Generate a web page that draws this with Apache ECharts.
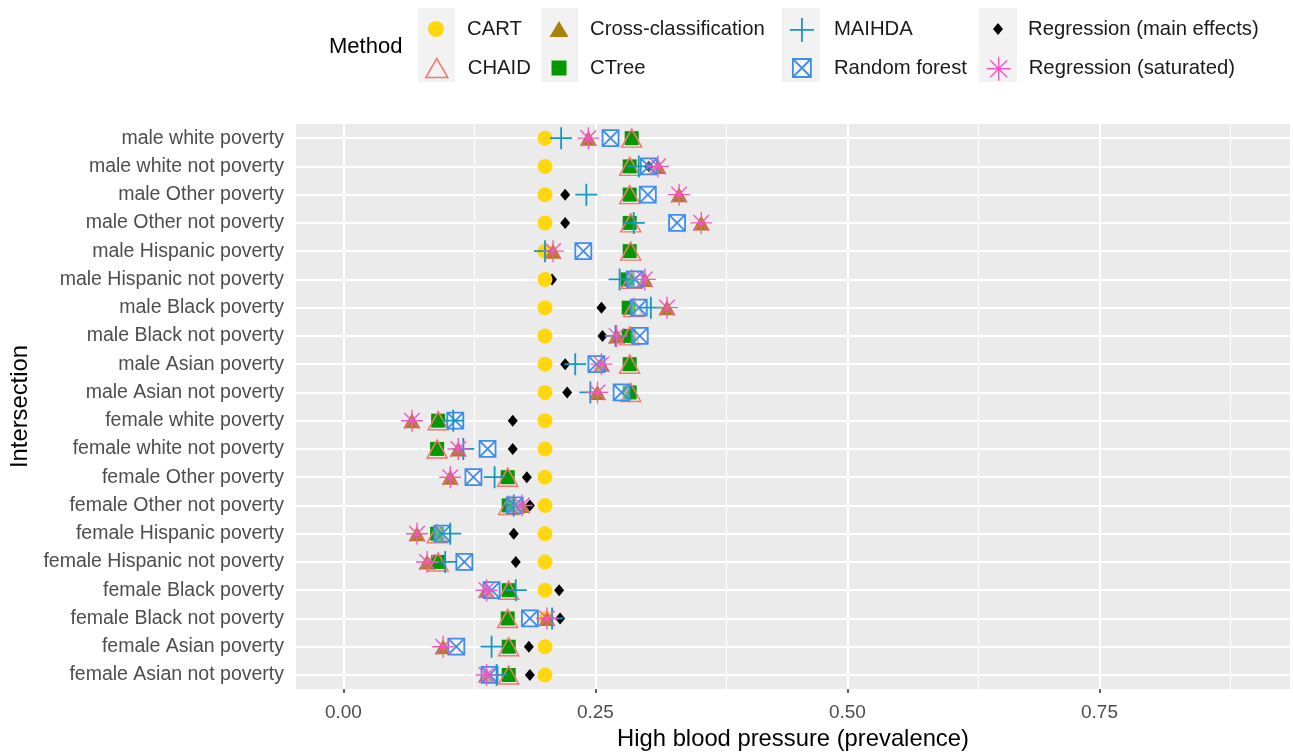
<!DOCTYPE html>
<html>
<head>
<meta charset="utf-8">
<script src="https://cdn.jsdelivr.net/npm/echarts@6/dist/echarts.min.js"></script>
<style>html,body{margin:0;padding:0;background:#fff;}#c{width:1293px;height:756px;}</style>
</head>
<body>
<div id="c"></div>
<script>
const categories = [
  'male white poverty','male white not poverty','male Other poverty','male Other not poverty',
  'male Hispanic poverty','male Hispanic not poverty','male Black poverty','male Black not poverty',
  'male Asian poverty','male Asian not poverty','female white poverty','female white not poverty',
  'female Other poverty','female Other not poverty','female Hispanic poverty','female Hispanic not poverty',
  'female Black poverty','female Black not poverty','female Asian poverty','female Asian not poverty'
];
const xTicks = [0, 0.25, 0.5, 0.75];

const cart     = [0.200,0.200,0.200,0.200,0.200,0.200,0.200,0.200,0.200,0.200,0.200,0.200,0.200,0.200,0.200,0.200,0.200,0.201,0.200,0.200];
const chaid    = [0.286,0.284,0.284,0.285,0.285,0.286,0.288,0.284,0.284,0.285,0.094,0.093,0.163,0.164,0.093,0.094,0.164,0.163,0.164,0.164];
const crossCls = [0.243,0.312,0.333,0.355,0.208,0.299,0.321,0.271,0.256,0.252,0.068,0.114,0.106,0.177,0.073,0.083,0.142,0.202,0.099,0.142];
const ctree    = [0.286,0.284,0.284,0.284,0.284,0.282,0.283,0.283,0.284,0.284,0.094,0.093,0.163,0.164,0.093,0.094,0.164,0.163,0.164,0.164];
const maihda   = [0.216,0.293,0.241,0.288,0.200,0.274,0.305,0.270,0.230,0.245,0.109,0.119,0.150,0.169,0.106,0.101,0.171,0.207,0.147,0.152];
const rforest  = [0.265,0.303,0.302,0.331,0.238,0.289,0.293,0.294,0.251,0.276,0.111,0.143,0.129,0.170,0.098,0.120,0.147,0.185,0.112,0.145];
const regMain  = [0.287,0.303,0.220,0.220,0.201,0.207,0.256,0.257,0.220,0.222,0.168,0.168,0.182,0.185,0.169,0.171,0.214,0.215,0.184,0.185];
const regSat   = [0.243,0.312,0.333,0.355,0.208,0.299,0.321,0.271,0.256,0.252,0.068,0.114,0.106,0.177,0.073,0.083,0.142,0.202,0.099,0.142];

const PLUS = 'path://M0,5L10,5M5,0L5,10';
const STAR = 'path://M5,0L5,10M0,5L10,5M1.46,1.46L8.54,8.54M1.46,8.54L8.54,1.46';
const BOXX = 'path://M0,0L10,0L10,10L0,10ZM0,0L10,10M0,10L10,0';

function pts(vals){ return vals.map((v,i)=>[v, categories[i]]); }

const gridLineData = []
  .concat(xTicks.map(v=>({xAxis:v, lineStyle:{width:2}})))
  .concat(xTicks.map(v=>({xAxis:v+0.125, lineStyle:{width:1}})))
  .concat(categories.map((c,i)=>({yAxis:i, lineStyle:{width:2}})));

const seriesDefs = [
  {name:'Regression (main effects)', data:regMain, symbol:'diamond', size:[10,12], z:3,
   style:{color:'#000', borderWidth:0}},
  {name:'CART', data:cart, symbol:'circle', size:15, z:4,
   style:{color:'#FFD70F', borderWidth:0}},
  {name:'Cross-classification', data:crossCls, symbol:'triangle', size:[17,15], z:5,
   style:{color:'#A8820A', borderWidth:0}},
  {name:'CTree', data:ctree, symbol:'rect', size:14, z:6,
   style:{color:'#009A00', borderWidth:0}},
  {name:'CHAID', data:chaid, symbol:'triangle', size:[20,18], z:7,
   style:{color:'transparent', borderColor:'#F8766D', borderWidth:1.5}},
  {name:'Random forest', data:rforest, symbol:BOXX, size:16, z:8,
   style:{color:'rgba(255,255,255,0.35)', borderColor:'#3F8CEE', borderWidth:1.8}},
  {name:'MAIHDA', data:maihda, symbol:PLUS, size:22, z:9,
   style:{color:'transparent', borderColor:'#1597BE', borderWidth:1.8}},
  {name:'Regression (saturated)', data:regSat, symbol:STAR, size:22, z:10,
   style:{color:'transparent', borderColor:'#F556C6', borderWidth:1.4}}
];

const series = seriesDefs.map(d=>({
  type:'scatter', name:d.name, data:pts(d.data), symbol:d.symbol, symbolSize:d.size,
  symbolKeepAspect:false, z:d.z, itemStyle:Object.assign({opacity:1}, d.style),
  emphasis:{disabled:true}, silent:true
}));
series.push({
  type:'scatter', name:'__grid', data:[], z:1, silent:true,
  markLine:{silent:true, symbol:['none','none'], z:1, label:{show:false},
    lineStyle:{color:'#FFFFFF', type:'solid', opacity:1}, emphasis:{disabled:true}, data:gridLineData}
});

// legend layout: [name, keyCenterX, rowCenterY, iconW, iconH, textX, borderWidth]
const legendLayout = [
  ['CART', 436, 28, 16, 16, 467, 0],
  ['CHAID', 436, 67, 22, 19, 467, 1.5],
  ['Cross-classification', 559, 28, 19, 16, 590, 0],
  ['CTree', 559, 67, 15, 15, 590, 0],
  ['MAIHDA', 801, 28, 24, 24, 833, 1.8],
  ['Random forest', 801, 67, 18, 18, 833, 1.8],
  ['Regression (main effects)', 998, 28, 10, 12, 1028, 0],
  ['Regression (saturated)', 998, 67, 24, 24, 1028, 1.4]
];
const legends = legendLayout.map(l=>{
  const [name, cx, cy, iw, ih, tx, bw] = l;
  const left = cx - iw/2;
  const h = Math.max(ih, 22);
  return {
    show:true, data:[name], orient:'vertical', left:left, top:cy - h/2 + 1, padding:0,
    itemWidth:iw, itemHeight:ih, selectedMode:false,
    itemStyle:{borderWidth:bw, opacity:1},
    textStyle:{fontSize:20.3, color:'#1A1A1A', fontFamily:'Liberation Sans, Arial, sans-serif',
      padding:[0,0,0, tx - (left + iw + 5)], lineHeight:22}
  };
});

const chart = echarts.init(document.getElementById('c'), null, {renderer:'canvas'});
chart.setOption({
  animation:false,
  backgroundColor:'#FFFFFF',
  textStyle:{fontFamily:'Liberation Sans, Arial, sans-serif'},
  graphic:[
    {type:'rect', left:418, top:8, shape:{width:37, height:74}, style:{fill:'#F2F2F2'}, silent:true, z:-1},
    {type:'rect', left:541, top:8, shape:{width:37, height:74}, style:{fill:'#F2F2F2'}, silent:true, z:-1},
    {type:'rect', left:782, top:8, shape:{width:38, height:74}, style:{fill:'#F2F2F2'}, silent:true, z:-1},
    {type:'rect', left:979, top:8, shape:{width:38, height:74}, style:{fill:'#F2F2F2'}, silent:true, z:-1},
    {type:'text', left:329, top:36, silent:true,
     style:{text:'Method', fontSize:22, fill:'#000', fontFamily:'Liberation Sans, Arial, sans-serif'}}
  ],
  legend:legends,
  grid:{left:296, right:3, top:124, bottom:66, show:true, backgroundColor:'#EBEBEB', borderWidth:0, containLabel:false},
  xAxis:{
    type:'value', min:-0.047, max:0.939,
    name:'High blood pressure (prevalence)', nameLocation:'middle', nameGap:35,
    nameTextStyle:{fontSize:23.8, color:'#000'},
    axisLine:{show:false},
    axisTick:{show:true, length:4, lineStyle:{color:'#333', width:1.5}, customValues:xTicks},
    axisLabel:{fontSize:19, color:'#4D4D4D', margin:14, customValues:xTicks,
      formatter:v=>Number(v).toFixed(2)},
    splitLine:{show:false}, minorSplitLine:{show:false}
  },
  yAxis:{
    type:'category', data:categories, inverse:true, boundaryGap:true,
    name:'Intersection', nameLocation:'middle', nameGap:261,
    nameTextStyle:{fontSize:23.8, color:'#000'},
    axisLine:{show:false},
    axisTick:{show:true, alignWithLabel:true, length:4, lineStyle:{color:'#333', width:1.5}},
    axisLabel:{fontSize:19.5, color:'#4D4D4D', margin:12, interval:0},
    splitLine:{show:false}
  },
  series:series
});
</script>
</body>
</html>
